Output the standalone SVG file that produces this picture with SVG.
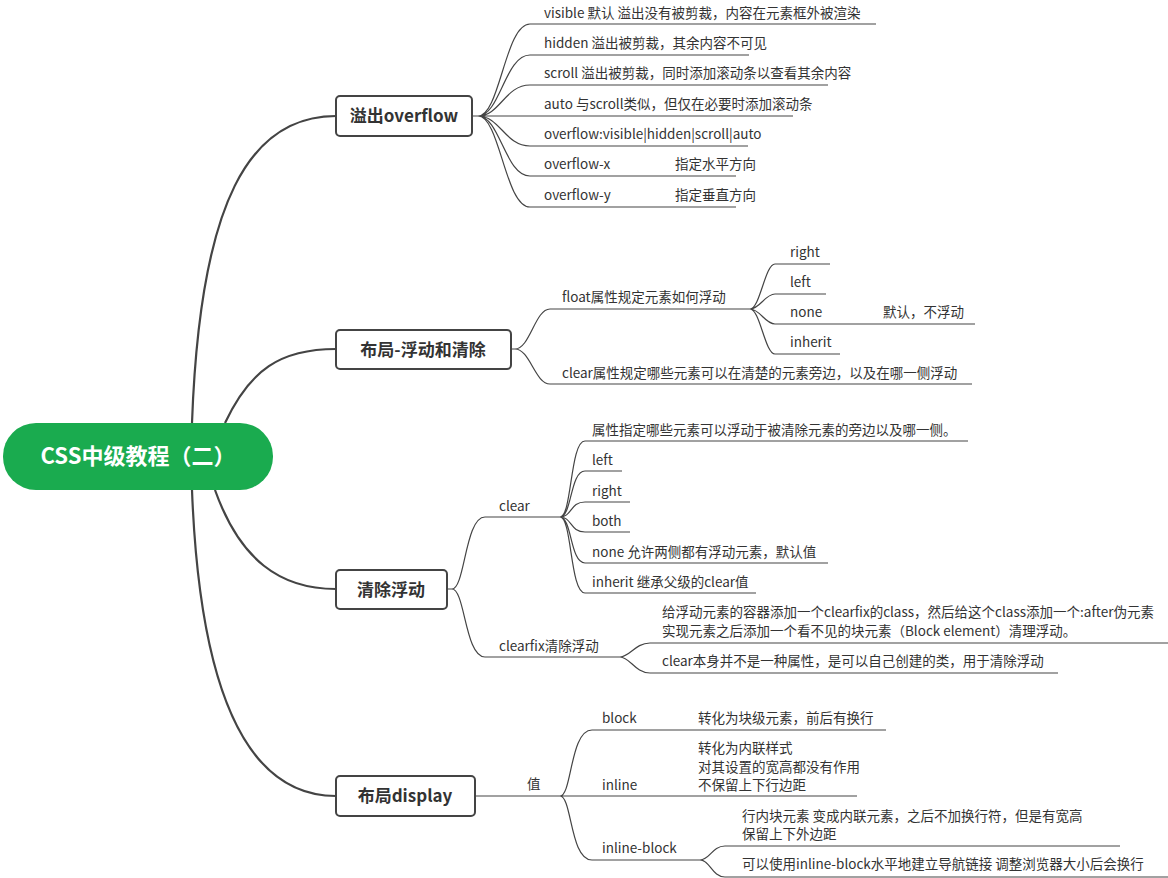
<svg xmlns="http://www.w3.org/2000/svg" width="1168" height="878" viewBox="0 0 1168 878">
<style>
text{font-family:"Noto Sans CJK SC","Liberation Sans",sans-serif;font-size:13.5px;fill:#333}
.m{font-size:17px;font-weight:bold;fill:#333}
.r{font-size:22px;font-weight:bold;fill:#fff}
.c path{fill:none;stroke:#444;stroke-width:1.2}
.c .t{stroke-width:2.2;stroke:#444}
.b{fill:#fff;stroke:#444;stroke-width:2}
</style>
<rect width="1168" height="878" fill="#fff"/>
<g class="c" id="connectors">
<path class="t" d="M192,423 C200,200 250,116 336,116"/>
<path class="t" d="M225,423 C250,370 280,349 336,349"/>
<path class="t" d="M215,490 C240,560 280,589 336,589"/>
<path class="t" d="M192,490 C200,700 250,796 336,796"/>
<path d="M472,116 H478 M478,116 C500,116 505,24 530,24 H876 M478,116 C500,116 505,55 530,55 H749 M478,116 C500,116 505,85 530,85 H828 M478,116 H793 M478,116 C500,116 505,146 530,146 H748 M478,116 C500,116 505,176 530,176 H736 M478,116 C500,116 505,207 530,207 H736"/>
<path d="M511,349 H515 C530,349 535,309 550,309 H750 M515,349 C530,349 535,384 550,384 H972"/>
<path d="M750,309 C760,309 765,264 775,264 H830 M750,309 C760,309 765,294 775,294 H826 M750,309 C760,309 765,324 775,324 H975 M750,309 C760,309 765,354 775,354 H840"/>
<path d="M447,589 H452 C465,589 465,517 485,517 H560 M452,589 C465,589 465,657 485,657 H620"/>
<path d="M560,517 C572,517 570,441 585,441 H968 M560,517 C572,517 570,471 585,471 H622 M560,517 C572,517 570,502 585,502 H630 M560,517 C572,517 570,532 585,532 H630 M560,517 C572,517 570,563 585,563 H828 M560,517 C572,517 570,593 585,593 H756"/>
<path d="M620,657 C630,657 635,643 650,643 H1168 M620,657 C630,657 635,673 650,673 H1058"/>
<path d="M475,796 H560 C572,796 570,730 592,730 H886 M560,796 H857 M560,796 C572,796 570,860 592,860 H700"/>
<path d="M700,860 C710,860 712,846 725,846 H1120 M700,860 C710,860 712,877 725,877 H1168"/>
</g>
<g id="root"><rect x="3" y="423" width="270" height="67" rx="33" fill="#1aab4f"/><text class="r" x="138" y="464" text-anchor="middle">CSS中级教程（二）</text></g>
<g id="n1"><rect class="b" x="336" y="96" width="136" height="40" rx="4"/><text class="m" x="404" y="122" text-anchor="middle">溢出overflow</text></g>
<g id="n2"><rect class="b" x="336" y="330" width="175" height="39" rx="4"/><text class="m" x="423" y="356" text-anchor="middle">布局-浮动和清除</text></g>
<g id="n3"><rect class="b" x="336" y="570" width="111" height="39" rx="4"/><text class="m" x="391" y="596" text-anchor="middle">清除浮动</text></g>
<g id="n4"><rect class="b" x="336" y="776" width="139" height="40" rx="4"/><text class="m" x="405" y="802" text-anchor="middle">布局display</text></g>
<g id="overflow-items">
<text x="544" y="18">visible 默认 溢出没有被剪裁，内容在元素框外被渲染</text>
<text x="544" y="48">hidden 溢出被剪裁，其余内容不可见</text>
<text x="544" y="78">scroll 溢出被剪裁，同时添加滚动条以查看其余内容</text>
<text x="544" y="109">auto 与scroll类似，但仅在必要时添加滚动条</text>
<text x="544" y="139">overflow:visible|hidden|scroll|auto</text>
<text x="544" y="169">overflow-x</text><text x="675" y="169">指定水平方向</text>
<text x="544" y="200">overflow-y</text><text x="675" y="200">指定垂直方向</text>
</g>
<g id="float-items">
<text x="562" y="302">float属性规定元素如何浮动</text>
<text x="790" y="257">right</text><text x="790" y="287">left</text>
<text x="790" y="317">none</text><text x="883" y="317">默认，不浮动</text>
<text x="790" y="347">inherit</text>
<text x="562" y="378">clear属性规定哪些元素可以在清楚的元素旁边，以及在哪一侧浮动</text>
</g>
<g id="clear-items">
<text x="499" y="511">clear</text>
<text x="592" y="435">属性指定哪些元素可以浮动于被清除元素的旁边以及哪一侧。</text>
<text x="592" y="465">left</text><text x="592" y="496">right</text><text x="592" y="526">both</text>
<text x="592" y="557">none 允许两侧都有浮动元素，默认值</text>
<text x="592" y="587">inherit 继承父级的clear值</text>
<text x="499" y="651">clearfix清除浮动</text>
<text x="662" y="617">给浮动元素的容器添加一个clearfix的class，然后给这个class添加一个:after伪元素</text>
<text x="662" y="636">实现元素之后添加一个看不见的块元素（Block element）清理浮动。</text>
<text x="662" y="666">clear本身并不是一种属性，是可以自己创建的类，用于清除浮动</text>
</g>
<g id="display-items">
<text x="527" y="789">值</text>
<text x="602" y="723">block</text><text x="698" y="723">转化为块级元素，前后有换行</text>
<text x="698" y="753">转化为内联样式</text><text x="698" y="772">对其设置的宽高都没有作用</text><text x="698" y="790">不保留上下行边距</text>
<text x="602" y="790">inline</text>
<text x="602" y="853">inline-block</text>
<text x="742" y="821">行内块元素 变成内联元素，之后不加换行符，但是有宽高</text>
<text x="742" y="839">保留上下外边距</text>
<text x="742" y="869">可以使用inline-block水平地建立导航链接 调整浏览器大小后会换行</text>
</g>
</svg>
